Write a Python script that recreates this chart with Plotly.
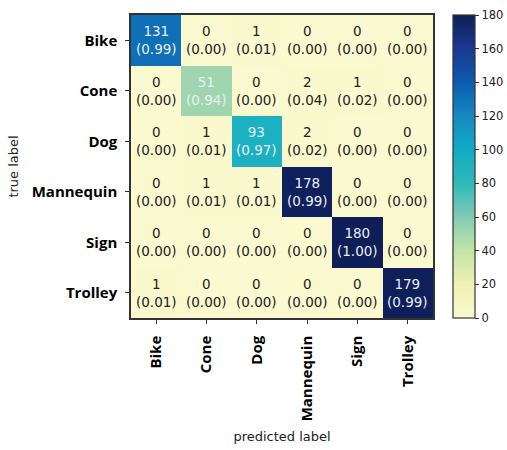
import plotly.graph_objects as go

labels = ["Bike", "Cone", "Dog", "Mannequin", "Sign", "Trolley"]
counts = [
    [131, 0, 1, 0, 0, 0],
    [0, 51, 0, 2, 1, 0],
    [0, 1, 93, 2, 0, 0],
    [0, 1, 1, 178, 0, 0],
    [0, 0, 0, 0, 180, 0],
    [1, 0, 0, 0, 0, 179],
]
fractions = [
    [0.99, 0.00, 0.01, 0.00, 0.00, 0.00],
    [0.00, 0.94, 0.00, 0.04, 0.02, 0.00],
    [0.00, 0.01, 0.97, 0.02, 0.00, 0.00],
    [0.00, 0.01, 0.01, 0.99, 0.00, 0.00],
    [0.00, 0.00, 0.00, 0.00, 1.00, 0.00],
    [0.01, 0.00, 0.00, 0.00, 0.00, 0.99],
]
cbar_ticks = [0, 20, 40, 60, 80, 100, 120, 140, 160, 180]

ylgnbu = [
    [0.0, "#fbf9d0"], [20 / 180, "#eef2b0"], [40 / 180, "#c4e4a8"],
    [60 / 180, "#80cbb4"], [80 / 180, "#30b9b8"], [100 / 180, "#10acc4"],
    [120 / 180, "#1888c0"], [140 / 180, "#0a5cb0"], [160 / 180, "#1c3890"],
    [1.0, "#0e1e56"],
]

fig = go.Figure(go.Heatmap(
    z=counts, x=labels, y=labels, colorscale=ylgnbu, zmin=0, zmax=180,
    showscale=True, hoverinfo="skip",
    colorbar=dict(
        x=1.065, xanchor="left", xref="paper", xpad=0, ypad=0,
        y=0.5, yanchor="middle",
        len=1.0, lenmode="fraction", thickness=22,
        outlinewidth=1.2, outlinecolor="#333",
        tickvals=cbar_ticks, ticks="outside", ticklen=4, tickcolor="#333",
        tickfont=dict(family="DejaVu Sans", size=11.5, color="#222"),
    ),
))

annotations = []
for i, row in enumerate(counts):
    for j, v in enumerate(row):
        light = v > 40
        annotations.append(dict(
            x=labels[j], y=labels[i], xref="x", yref="y",
            text=f"{v}<br>({fractions[i][j]:.2f})", showarrow=False,
            font=dict(family="DejaVu Sans", size=13.5,
                      color="#e8eef4" if light else "#222"),
        ))
fig.update_layout(annotations=annotations)

fig.update_xaxes(
    side="bottom", tickangle=-90, ticks="outside", ticklen=4, tickcolor="#333",
    ticklabelstandoff=6,
    tickfont=dict(family="Open Sans", size=15, color="#000", weight="bold"),
    showline=True, linecolor="#333", linewidth=1.5, mirror=True,
    title=dict(text="predicted label", font=dict(family="DejaVu Sans", size=13, color="#222"), standoff=12),
    showgrid=False, zeroline=False,
)
fig.update_yaxes(
    autorange="reversed", ticks="outside", ticklen=4, tickcolor="#333",
    ticklabelstandoff=5,
    tickfont=dict(family="Open Sans", size=15, color="#000", weight="bold"),
    showline=True, linecolor="#333", linewidth=1.5, mirror=True,
    title=dict(text="true label", font=dict(family="DejaVu Sans", size=13, color="#222"), standoff=10),
    showgrid=False, zeroline=False,
)

fig.update_layout(
    width=507, height=450,
    margin=dict(l=131, r=74, t=15, b=132, autoexpand=False),
    paper_bgcolor="white", plot_bgcolor="white",
)

fig.write_html("out.html", config={"displayModeBar": False},
               post_script="document.body.style.margin='0px';")
